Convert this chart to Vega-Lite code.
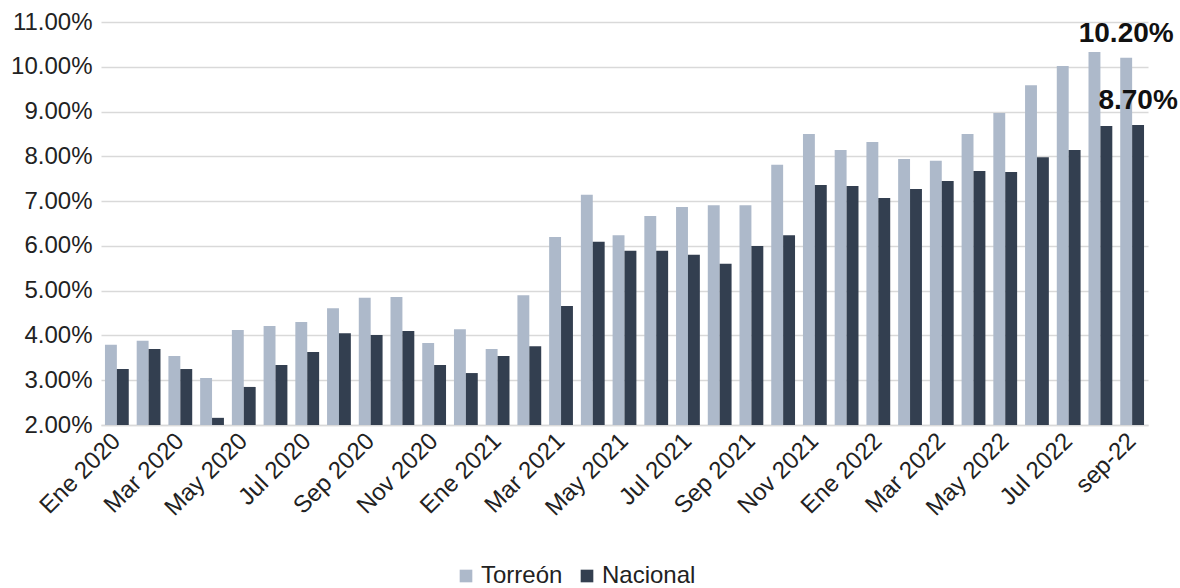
{
  "$schema": "https://vega.github.io/schema/vega-lite/v6.json",
  "width": 1047,
  "height": 403,
  "autosize": {"type": "none"},
  "padding": {"left": 101, "top": 22, "right": 32, "bottom": 163},
  "background": "white",
  "config": {
    "view": {"stroke": null},
    "font": "Liberation Sans"
  },
  "data": {
    "values": [
      {"mes": "Ene 2020", "serie": "Torreón", "valor": 3.79}, {"mes": "Ene 2020", "serie": "Nacional", "valor": 3.25},
      {"mes": "Feb 2020", "serie": "Torreón", "valor": 3.88}, {"mes": "Feb 2020", "serie": "Nacional", "valor": 3.70},
      {"mes": "Mar 2020", "serie": "Torreón", "valor": 3.54}, {"mes": "Mar 2020", "serie": "Nacional", "valor": 3.25},
      {"mes": "Abr 2020", "serie": "Torreón", "valor": 3.05}, {"mes": "Abr 2020", "serie": "Nacional", "valor": 2.16},
      {"mes": "May 2020", "serie": "Torreón", "valor": 4.12}, {"mes": "May 2020", "serie": "Nacional", "valor": 2.85},
      {"mes": "Jun 2020", "serie": "Torreón", "valor": 4.21}, {"mes": "Jun 2020", "serie": "Nacional", "valor": 3.34},
      {"mes": "Jul 2020", "serie": "Torreón", "valor": 4.30}, {"mes": "Jul 2020", "serie": "Nacional", "valor": 3.63},
      {"mes": "Ago 2020", "serie": "Torreón", "valor": 4.61}, {"mes": "Ago 2020", "serie": "Nacional", "valor": 4.05},
      {"mes": "Sep 2020", "serie": "Torreón", "valor": 4.84}, {"mes": "Sep 2020", "serie": "Nacional", "valor": 4.01},
      {"mes": "Oct 2020", "serie": "Torreón", "valor": 4.86}, {"mes": "Oct 2020", "serie": "Nacional", "valor": 4.10},
      {"mes": "Nov 2020", "serie": "Torreón", "valor": 3.83}, {"mes": "Nov 2020", "serie": "Nacional", "valor": 3.34},
      {"mes": "Dic 2020", "serie": "Torreón", "valor": 4.14}, {"mes": "Dic 2020", "serie": "Nacional", "valor": 3.16},
      {"mes": "Ene 2021", "serie": "Torreón", "valor": 3.70}, {"mes": "Ene 2021", "serie": "Nacional", "valor": 3.54},
      {"mes": "Feb 2021", "serie": "Torreón", "valor": 4.90}, {"mes": "Feb 2021", "serie": "Nacional", "valor": 3.76},
      {"mes": "Mar 2021", "serie": "Torreón", "valor": 6.20}, {"mes": "Mar 2021", "serie": "Nacional", "valor": 4.66},
      {"mes": "Abr 2021", "serie": "Torreón", "valor": 7.14}, {"mes": "Abr 2021", "serie": "Nacional", "valor": 6.09},
      {"mes": "May 2021", "serie": "Torreón", "valor": 6.24}, {"mes": "May 2021", "serie": "Nacional", "valor": 5.89},
      {"mes": "Jun 2021", "serie": "Torreón", "valor": 6.67}, {"mes": "Jun 2021", "serie": "Nacional", "valor": 5.89},
      {"mes": "Jul 2021", "serie": "Torreón", "valor": 6.87}, {"mes": "Jul 2021", "serie": "Nacional", "valor": 5.80},
      {"mes": "Ago 2021", "serie": "Torreón", "valor": 6.91}, {"mes": "Ago 2021", "serie": "Nacional", "valor": 5.60},
      {"mes": "Sep 2021", "serie": "Torreón", "valor": 6.91}, {"mes": "Sep 2021", "serie": "Nacional", "valor": 6.00},
      {"mes": "Oct 2021", "serie": "Torreón", "valor": 7.81}, {"mes": "Oct 2021", "serie": "Nacional", "valor": 6.24},
      {"mes": "Nov 2021", "serie": "Torreón", "valor": 8.50}, {"mes": "Nov 2021", "serie": "Nacional", "valor": 7.36},
      {"mes": "Dic 2021", "serie": "Torreón", "valor": 8.14}, {"mes": "Dic 2021", "serie": "Nacional", "valor": 7.34},
      {"mes": "Ene 2022", "serie": "Torreón", "valor": 8.32}, {"mes": "Ene 2022", "serie": "Nacional", "valor": 7.07},
      {"mes": "Feb 2022", "serie": "Torreón", "valor": 7.94}, {"mes": "Feb 2022", "serie": "Nacional", "valor": 7.27},
      {"mes": "Mar 2022", "serie": "Torreón", "valor": 7.90}, {"mes": "Mar 2022", "serie": "Nacional", "valor": 7.45},
      {"mes": "Abr 2022", "serie": "Torreón", "valor": 8.50}, {"mes": "Abr 2022", "serie": "Nacional", "valor": 7.67},
      {"mes": "May 2022", "serie": "Torreón", "valor": 8.97}, {"mes": "May 2022", "serie": "Nacional", "valor": 7.65},
      {"mes": "Jun 2022", "serie": "Torreón", "valor": 9.59}, {"mes": "Jun 2022", "serie": "Nacional", "valor": 7.98},
      {"mes": "Jul 2022", "serie": "Torreón", "valor": 10.02}, {"mes": "Jul 2022", "serie": "Nacional", "valor": 8.14},
      {"mes": "Ago 2022", "serie": "Torreón", "valor": 10.33}, {"mes": "Ago 2022", "serie": "Nacional", "valor": 8.68},
      {"mes": "sep-22", "serie": "Torreón", "valor": 10.20}, {"mes": "sep-22", "serie": "Nacional", "valor": 8.70}
    ]
  },
  "encoding": {
    "x": {
      "field": "mes",
      "type": "nominal",
      "sort": null,
      "scale": {"paddingInner": 0.25, "paddingOuter": 0.125},
      "axis": {
        "title": null,
        "values": ["Ene 2020", "Mar 2020", "May 2020", "Jul 2020", "Sep 2020", "Nov 2020", "Ene 2021", "Mar 2021", "May 2021", "Jul 2021", "Sep 2021", "Nov 2021", "Ene 2022", "Mar 2022", "May 2022", "Jul 2022", "sep-22"],
        "labelAngle": -45,
        "labelAlign": "right",
        "labelBaseline": "middle",
        "labelFontSize": 24,
        "labelColor": "#222222",
        "labelPadding": 12,
        "ticks": false,
        "domain": true,
        "domainColor": "#d9d9d9",
        "domainWidth": 1.5,
        "grid": false
      }
    },
    "xOffset": {"field": "serie", "type": "nominal", "scale": {"domain": ["Torreón", "Nacional"]}},
    "y": {
      "field": "valor",
      "type": "quantitative",
      "scale": {"domain": [2, 11], "nice": false, "zero": false},
      "axis": {
        "title": null,
        "values": [2, 3, 4, 5, 6, 7, 8, 9, 10, 11],
        "labelExpr": "format(datum.value, '.2f') + '%'",
        "labelFontSize": 24,
        "labelColor": "#222222",
        "labelPadding": 9,
        "ticks": false,
        "domain": false,
        "grid": true,
        "gridColor": "#d9d9d9",
        "gridWidth": 1.5
      }
    }
  },
  "layer": [
    {
      "mark": {"type": "bar"},
      "encoding": {
        "y2": {"datum": 2},
        "color": {
          "field": "serie",
          "type": "nominal",
          "scale": {"domain": ["Torreón", "Nacional"], "range": ["#adb9ca", "#333f50"]},
          "legend": {
            "title": null,
            "orient": "none",
            "direction": "horizontal",
            "legendX": 353,
            "legendY": 542,
            "symbolType": "square",
            "symbolSize": 160,
            "symbolStrokeWidth": 0,
            "labelFontSize": 24,
            "labelColor": "#222222",
            "columnPadding": 12,
            "labelOffset": 3
          }
        }
      }
    },
    {
      "transform": [
        {"filter": "datum.mes === 'sep-22'"},
        {"calculate": "format(datum.valor, '.2f') + '%'", "as": "etiqueta"}
      ],
      "mark": {"type": "text", "baseline": "bottom", "dy": -10, "fontSize": 28, "fontWeight": "bold", "color": "#111111"},
      "encoding": {
        "text": {"field": "etiqueta", "type": "nominal"}
      }
    }
  ]
}
